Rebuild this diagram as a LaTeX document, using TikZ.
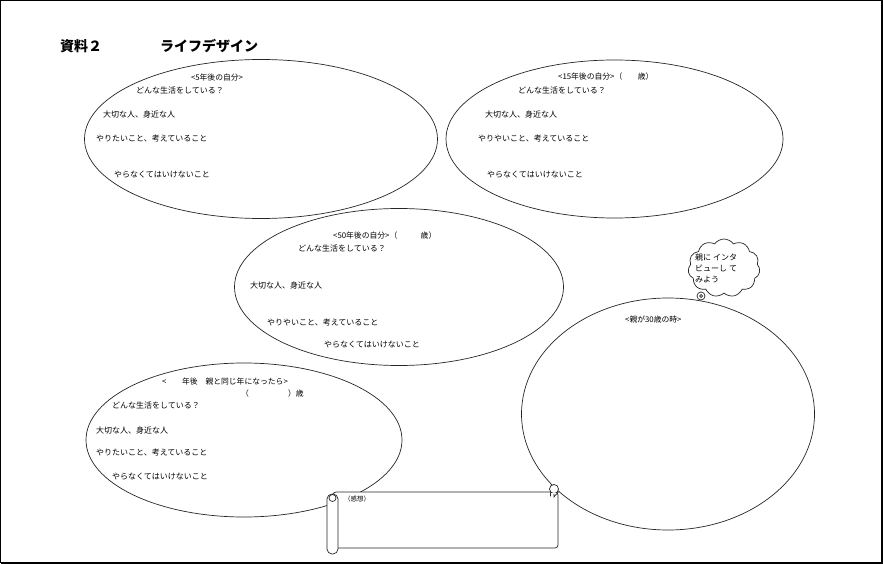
\documentclass[tikz,border=0pt]{standalone}
\usepackage{fontspec}
\newfontfamily\jp{Noto Sans CJK JP}
\usetikzlibrary{shapes.geometric,shapes.symbols}
\begin{document}
\begin{tikzpicture}[x=1pt,y=-1pt,
  oval/.style={ellipse,draw=black!85,line width=0.7pt,inner sep=0pt},
  txt/.style={anchor=west,inner sep=0pt,font=\jp\fontsize{8}{9}\selectfont},
  head/.style={anchor=west,inner sep=0pt,font=\jp\fontsize{7.8}{9}\selectfont},
  ttl/.style={anchor=west,inner sep=0pt,font=\jp\bfseries\fontsize{14}{15}\selectfont},
  thin/.style={draw=black!85,line width=0.7pt}]
\useasboundingbox (0,0) rectangle (883,564);
\fill[white] (0,0) rectangle (883,564);
% frame
\draw[line width=1pt] (0.5,563) -- (0.5,0.5) -- (881.5,0.5);
\draw[line width=2pt] (881.5,0.5) -- (881.5,562.5) -- (0.5,562.5);
% title
\node[ttl] (t1) at (60,46) {資料２};
\node[ttl] (t2) at (160,46) {ライフデザイン};
% ellipses
\node[oval,minimum width=353pt,minimum height=159pt] (e1) at (261,139) {};
\node[oval,minimum width=337pt,minimum height=158pt] (e2) at (614.5,139) {};
\node[oval,minimum width=329pt,minimum height=157pt] (e3) at (399,287) {};
\node[oval,minimum width=316pt,minimum height=154pt] (e4) at (244,440) {};
\node[oval,minimum width=293pt,minimum height=232pt] (e5) at (668,414) {};
% ellipse 1 texts
\node[head,anchor=center] (a1) at (217,78) {<5年後の自分>};
\node[txt] (a2) at (136,90) {どんな生活をしている？};
\node[txt] (a3) at (103,114) {大切な人、身近な人};
\node[txt] (a4) at (96,138) {やりたいこと、考えていること};
\node[txt] (a5) at (114,175) {やらなくてはいけないこと};
% ellipse 2 texts
\node[head] (b1) at (558,77) {<15年後の自分>（　　歳）};
\node[txt] (b2) at (518,90) {どんな生活をしている？};
\node[txt] (b3) at (485,114) {大切な人、身近な人};
\node[txt] (b4) at (478,138) {やりやいこと、考えていること};
\node[txt] (b5) at (487,175) {やらなくてはいけないこと};
% ellipse 3 texts
\node[head] (c1) at (333,236) {<50年後の自分>（　　　歳）};
\node[txt] (c2) at (298,248) {どんな生活をしている？};
\node[txt] (c3) at (250,285) {大切な人、身近な人};
\node[txt] (c4) at (267,322) {やりやいこと、考えていること};
\node[txt] (c5) at (324,345) {やらなくてはいけないこと};
% ellipse 4 texts
\node[head] (d1) at (162,382) {<　　年後　親と同じ年になったら>};
\node[head] (d0) at (241,394) {（　　　　　）歳};
\node[txt] (d2) at (112,405) {どんな生活をしている？};
\node[txt] (d3) at (96,430) {大切な人、身近な人};
\node[txt] (d4) at (96,452) {やりたいこと、考えていること};
\node[txt] (d5) at (112,477) {やらなくてはいけないこと};
% circle 5 text
\node[head] (f1) at (625,320) {<親が30歳の時>};
% cloud
\node[cloud,cloud puffs=11,cloud puff arc=110,aspect=1.2,draw=black!85,fill=white,line width=0.7pt,
  minimum width=72pt,minimum height=58pt,inner sep=0pt] (cl) at (724,268) {};
\node[txt] (g1) at (695,257) {親に インタ};
\node[txt] (g2) at (695,268) {ビューし て};
\node[txt] (g3) at (695,280) {みよう};
\node[circle,thin,fill=white,minimum size=8pt,inner sep=0pt] (bub) at (701,296) {};
\node[circle,thin,minimum size=3pt,inner sep=0pt] (bub2) at (701,296) {};
% scroll
\node[thin,fill=white,rounded corners=3pt,minimum width=225pt,minimum height=56pt,inner sep=0pt] (sb) at (445.5,520) {};
\node[circle,thin,fill=white,minimum size=9pt,inner sep=0pt] (sc) at (554,489) {};
\fill[white] (sb.north east) ++(-8,1) rectangle ++(7,5);
\draw[thin] (sc.south west) -- ++(0,4) (sc.south) -- ++(0,3) -- (sb.north east |- 0,492);
\node[thin,fill=white,rounded corners=5pt,minimum width=11pt,minimum height=60pt,inner sep=0pt] (sr) at (332.5,524) {};
\node[circle,thin,fill=white,minimum size=7pt,inner sep=0pt] (sr2) at (332.5,498) {};
\node[txt,font=\jp\fontsize{6.5}{7}\selectfont] (s1) at (344,499) {（感想）};
\end{tikzpicture}
\end{document}
